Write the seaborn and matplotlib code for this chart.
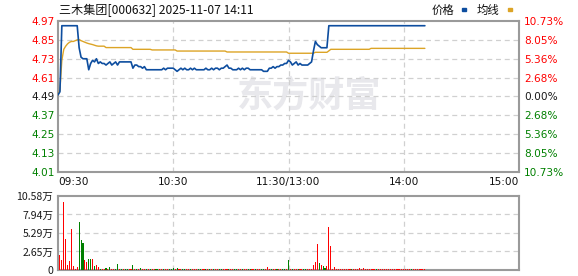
import numpy as np
import pandas as pd
import matplotlib
matplotlib.use("Agg")
import matplotlib.pyplot as plt
from matplotlib.patches import Rectangle
import seaborn as sns

# ---------------- data ----------------
title_text = "三木集团[000632] 2025-11-07 14:11"
legend_labels = ["价格", "均线"]

# minute index (09:30 = 0, 11:30/13:00 = 120, 15:00 = 240)
x_tick_pos = [0, 60, 120, 180, 240]
x_tick_labels = ["09:30", "10:30", "11:30/13:00", "14:00", "15:00"]

price_ticks = [4.01, 4.13, 4.25, 4.37, 4.49, 4.61, 4.73, 4.85, 4.97]
price_tick_labels = ["4.01", "4.13", "4.25", "4.37", "4.49", "4.61", "4.73", "4.85", "4.97"]
pct_tick_labels = ["10.73%", "8.05%", "5.36%", "2.68%", "0.00%", "2.68%", "5.36%", "8.05%", "10.73%"]
tick_dirs = ["down", "down", "down", "down", "flat", "up", "up", "up", "up"]

vol_ticks = [0, 2.65, 5.29, 7.94, 10.58]
vol_tick_labels = ["0", "2.65万", "5.29万", "7.94万", "10.58万"]

price = [
    4.50, 4.52, 4.94, 4.94, 4.94, 4.94, 4.94, 4.94, 4.94, 4.94,
    4.94, 4.80, 4.74, 4.73, 4.73, 4.73, 4.66, 4.70, 4.72, 4.71,
    4.73, 4.70, 4.71, 4.70, 4.70, 4.69, 4.70, 4.71, 4.69, 4.70,
    4.71, 4.69, 4.71, 4.71, 4.71, 4.71, 4.71, 4.71, 4.71, 4.67,
    4.69, 4.69, 4.68, 4.68, 4.67, 4.68, 4.66, 4.66, 4.66, 4.66,
    4.66, 4.66, 4.66, 4.66, 4.66, 4.67, 4.66, 4.67, 4.67, 4.67,
    4.67, 4.66, 4.65, 4.66, 4.67, 4.66, 4.67, 4.66, 4.66, 4.67,
    4.66, 4.67, 4.66, 4.66, 4.66, 4.66, 4.66, 4.67, 4.66, 4.66,
    4.67, 4.66, 4.67, 4.67, 4.66, 4.67, 4.67, 4.68, 4.69, 4.67,
    4.67, 4.66, 4.66, 4.66, 4.67, 4.66, 4.67, 4.66, 4.67, 4.67,
    4.66, 4.66, 4.66, 4.66, 4.66, 4.66, 4.66, 4.65, 4.65, 4.65,
    4.67, 4.67, 4.68, 4.67, 4.68, 4.68, 4.69, 4.69, 4.70, 4.70,
    4.72, 4.71, 4.69, 4.70, 4.71, 4.69, 4.70, 4.69, 4.69, 4.69,
    4.69, 4.70, 4.71, 4.78, 4.84, 4.82, 4.81, 4.80, 4.80, 4.80,
    4.80, 4.94, 4.94, 4.94, 4.94, 4.94, 4.94, 4.94, 4.94, 4.94,
    4.94, 4.94, 4.94, 4.94, 4.94, 4.94, 4.94, 4.94, 4.94, 4.94,
    4.94, 4.94, 4.94, 4.94, 4.94, 4.94, 4.94, 4.94, 4.94, 4.94,
    4.94, 4.94, 4.94, 4.94, 4.94, 4.94, 4.94, 4.94, 4.94, 4.94,
    4.94, 4.94, 4.94, 4.94, 4.94, 4.94, 4.94, 4.94, 4.94, 4.94,
    4.94, 4.94,
]

avg_price = [
    4.500, 4.530, 4.720, 4.790, 4.810, 4.825, 4.835, 4.840, 4.840, 4.845,
    4.850, 4.852, 4.845, 4.840, 4.835, 4.830, 4.826, 4.823, 4.820, 4.816,
    4.812, 4.810, 4.810, 4.810, 4.810, 4.801, 4.801, 4.801, 4.801, 4.801,
    4.801, 4.801, 4.801, 4.801, 4.801, 4.801, 4.801, 4.801, 4.801, 4.790,
    4.790, 4.790, 4.790, 4.790, 4.790, 4.790, 4.790, 4.790, 4.790, 4.786,
    4.786, 4.786, 4.786, 4.786, 4.786, 4.786, 4.786, 4.786, 4.786, 4.786,
    4.786, 4.786, 4.779, 4.779, 4.779, 4.779, 4.779, 4.779, 4.779, 4.779,
    4.779, 4.779, 4.779, 4.779, 4.779, 4.779, 4.779, 4.779, 4.779, 4.779,
    4.779, 4.779, 4.779, 4.779, 4.779, 4.779, 4.779, 4.779, 4.773, 4.773,
    4.773, 4.773, 4.773, 4.773, 4.773, 4.773, 4.773, 4.773, 4.773, 4.773,
    4.773, 4.773, 4.773, 4.773, 4.773, 4.773, 4.773, 4.773, 4.773, 4.773,
    4.773, 4.773, 4.773, 4.773, 4.773, 4.773, 4.773, 4.773, 4.773, 4.773,
    4.765, 4.765, 4.765, 4.765, 4.765, 4.765, 4.765, 4.765, 4.765, 4.765,
    4.765, 4.765, 4.765, 4.765, 4.771, 4.771, 4.771, 4.771, 4.771, 4.771,
    4.771, 4.780, 4.790, 4.790, 4.790, 4.790, 4.790, 4.790, 4.790, 4.790,
    4.790, 4.790, 4.790, 4.790, 4.790, 4.790, 4.790, 4.790, 4.790, 4.790,
    4.790, 4.790, 4.790, 4.796, 4.796, 4.796, 4.796, 4.796, 4.796, 4.796,
    4.796, 4.796, 4.796, 4.796, 4.796, 4.796, 4.796, 4.796, 4.796, 4.796,
    4.796, 4.796, 4.796, 4.796, 4.796, 4.796, 4.796, 4.796, 4.796, 4.796,
    4.796, 4.796,
]

# volume in 万 for minutes 1..191
volume = [
    2.15, 1.44, 9.77, 4.45, 0.72, 1.29, 5.89, 0.57, 0.14, 0.38,
    6.90, 4.31, 3.88, 1.44, 1.10, 1.58, 1.58, 1.58, 0.57, 0.77,
    0.43, 0.19, 0.14, 0.14, 0.29, 0.14, 0.48, 0.14, 0.10, 0.10,
    0.81, 0.10, 0.12, 0.10, 0.10, 0.14, 0.10, 0.10, 0.67, 0.10,
    0.10, 0.12, 0.24, 0.10, 0.10, 0.10, 0.12, 0.10, 0.10, 0.10,
    0.10, 0.10, 0.12, 0.10, 0.10, 0.10, 0.10, 0.10, 0.12, 0.24,
    0.10, 0.24, 0.10, 0.10, 0.12, 0.10, 0.10, 0.10, 0.10, 0.10,
    0.10, 0.12, 0.10, 0.10, 0.10, 0.10, 0.10, 0.10, 0.12, 0.10,
    0.10, 0.10, 0.10, 0.12, 0.10, 0.10, 0.14, 0.14, 0.10, 0.10,
    0.10, 0.10, 0.12, 0.10, 0.10, 0.10, 0.10, 0.10, 0.12, 0.10,
    0.10, 0.10, 0.10, 0.10, 0.10, 0.10, 0.12, 0.10, 0.38, 0.12,
    0.10, 0.10, 0.10, 0.12, 0.10, 0.10, 0.10, 0.12, 0.14, 1.38,
    0.10, 0.12, 0.10, 0.10, 0.10, 0.10, 0.10, 0.12, 0.10, 0.10,
    0.10, 0.14, 0.67, 1.10, 3.67, 0.95, 0.76, 0.52, 0.24, 0.52,
    6.10, 3.39, 0.10, 0.38, 0.10, 0.10, 0.10, 0.10, 0.10, 0.10,
    0.10, 0.10, 0.10, 0.10, 0.10, 0.10, 0.24, 0.10, 0.24, 0.10,
    0.10, 0.10, 0.12, 0.10, 0.10, 0.10, 0.10, 0.10, 0.10, 0.10,
    0.10, 0.12, 0.10, 0.10, 0.10, 0.10, 0.10, 0.10, 0.10, 0.10,
    0.10, 0.10, 0.14, 0.10, 0.10, 0.10, 0.10, 0.10, 0.10, 0.10,
    0.10,
]
# r = up minute, g = down minute
volume_dir = (
    "rrrrrrrrrr" "gggrrggrgr" "rgrrgrgrrg" "grgrggrrgr" "grgrrgrgrr"
    "ggrrgrrggg" "rgrrggrrgr" "rrggrrgrgr" "grrggrrrgr" "rggrrgrrgg"
    "rrgrrggrrr" "grrgrrggrg" "rgrrgrrggr" "rrrrrgrggr" "rrrrrrrrrr"
    "rrgrrrrrrr" "rrrrrgrrrr" "rrrrrrrrrr" "rrrgrrrrrrr"
)

# ---------------- styling ----------------
BLUE = "#0d4d9f"
ORANGE = "#dca426"
RED = "#ff0000"
GREEN = "#008000"
FRAME = "#9a9a9a"
GRID = "#d0d0d0"
CJK = ["Noto Sans CJK SC", "DejaVu Sans"]
FS = 7.6
dir_color = {"up": RED, "down": GREEN, "flat": "#1a1a1a"}

sns.set_theme(style="white")
plt.rcParams["font.family"] = ["DejaVu Sans", "Noto Sans CJK SC"]

W, H = 578, 276
fig = plt.figure(figsize=(W / 100, H / 100), dpi=100)
fig.patch.set_facecolor("white")

ax = fig.add_axes([58 / W, 1 - 172 / H, 461 / W, 151 / H])
axv = fig.add_axes([58 / W, 1 - 270 / H, 461 / W, 74 / H])

t_price = np.arange(len(price))
df_p = pd.DataFrame({"t": t_price, "price": price, "avg": avg_price})

# watermark
ax.text(0.545, 0.505, "东方财富", transform=ax.transAxes, fontsize=26,
        fontweight="bold", color="#e8e8ec", ha="center", va="center",
        family=CJK, zorder=0)

# grid
for yv in price_ticks[1:-1]:
    ax.axhline(yv, color=GRID, lw=0.9, ls=(0, (4, 3)), zorder=1)
for xv in x_tick_pos[1:-1]:
    ax.axvline(xv, color=GRID, lw=0.9, ls=(0, (4, 3)), zorder=1)

sns.lineplot(data=df_p, x="t", y="avg", ax=ax, color=ORANGE, lw=1.0, zorder=3)
sns.lineplot(data=df_p, x="t", y="price", ax=ax, color=BLUE, lw=1.2, zorder=4)

ax.set_xlim(0, 240)
ax.set_ylim(price_ticks[0], price_ticks[-1])
ax.set_xlabel("")
ax.set_ylabel("")
ax.set_yticks(price_ticks)
ax.set_yticklabels(price_tick_labels)
for lbl, d in zip(ax.get_yticklabels(), tick_dirs):
    lbl.set_color(dir_color[d])
ax.set_xticks(x_tick_pos)
ax.set_xticklabels(x_tick_labels)
xl = ax.get_xticklabels()
xl[0].set_ha("left")
xl[-1].set_ha("right")
ax.tick_params(axis="both", length=0, labelsize=FS)
ax.tick_params(axis="y", pad=2.5)
ax.tick_params(axis="x", pad=3.5, colors="#111111")
for s in ax.spines.values():
    s.set_color(FRAME)
    s.set_linewidth(1.5)

ax2 = ax.twinx()
ax2.set_ylim(price_ticks[0], price_ticks[-1])
ax2.set_yticks(price_ticks)
ax2.set_yticklabels(pct_tick_labels)
for lbl, d in zip(ax2.get_yticklabels(), tick_dirs):
    lbl.set_color(dir_color[d])
ax2.tick_params(axis="y", length=0, labelsize=FS, pad=3.5)
for s in ax2.spines.values():
    s.set_visible(False)

# volume
t_vol = np.arange(1, len(volume) + 1)
df_v = pd.DataFrame({"t": t_vol, "vol": volume,
                     "dir": [("up" if c == "r" else "down") for c in volume_dir]})
for yv in vol_ticks[1:-1]:
    axv.axhline(yv, color=GRID, lw=0.9, ls=(0, (4, 3)), zorder=0)
for xv in x_tick_pos[1:-1]:
    axv.axvline(xv, color=GRID, lw=0.9, ls=(0, (4, 3)), zorder=0)

sns.barplot(data=df_v, x="t", y="vol", hue="dir",
            palette={"up": RED, "down": GREEN}, native_scale=True,
            dodge=False, width=0.56, errorbar=None, legend=False,
            saturation=1, edgecolor="none", linewidth=0, ax=axv, zorder=3)
for p in axv.patches:
    p.set_edgecolor("none")
    p.set_linewidth(0)
    p.set_antialiased(False)
axv.set_xlim(0, 240)
axv.set_ylim(vol_ticks[0], vol_ticks[-1])
axv.set_xlabel("")
axv.set_ylabel("")
axv.set_xticks([])
axv.set_yticks(vol_ticks)
axv.set_yticklabels(vol_tick_labels)
for lbl in axv.get_yticklabels():
    lbl.set_family(CJK)
    lbl.set_color("#1a1a1a")
axv.tick_params(axis="y", length=0, labelsize=FS, pad=3.5)
for s in axv.spines.values():
    s.set_color(FRAME)
    s.set_linewidth(1.5)
    s.set_zorder(2.5)

# title and legend
fig.text(59 / W, 1 - 10.5 / H, title_text, ha="left", va="center",
         fontsize=8.7, family=CJK, color="#111111")
fig.text(432 / W, 1 - 10.5 / H, legend_labels[0], ha="left", va="center",
         fontsize=8.2, family=CJK, color="#111111")
fig.text(477 / W, 1 - 10.5 / H, legend_labels[1], ha="left", va="center",
         fontsize=8.2, family=CJK, color="#111111")
fig.patches.append(Rectangle((462 / W, 1 - 10.7 / H), 4 / W, 2.5 / H,
                             transform=fig.transFigure, color=BLUE))
fig.patches.append(Rectangle((508 / W, 1 - 10.7 / H), 4 / W, 2.5 / H,
                             transform=fig.transFigure, color=ORANGE))

fig.savefig("out.png", dpi=100)
